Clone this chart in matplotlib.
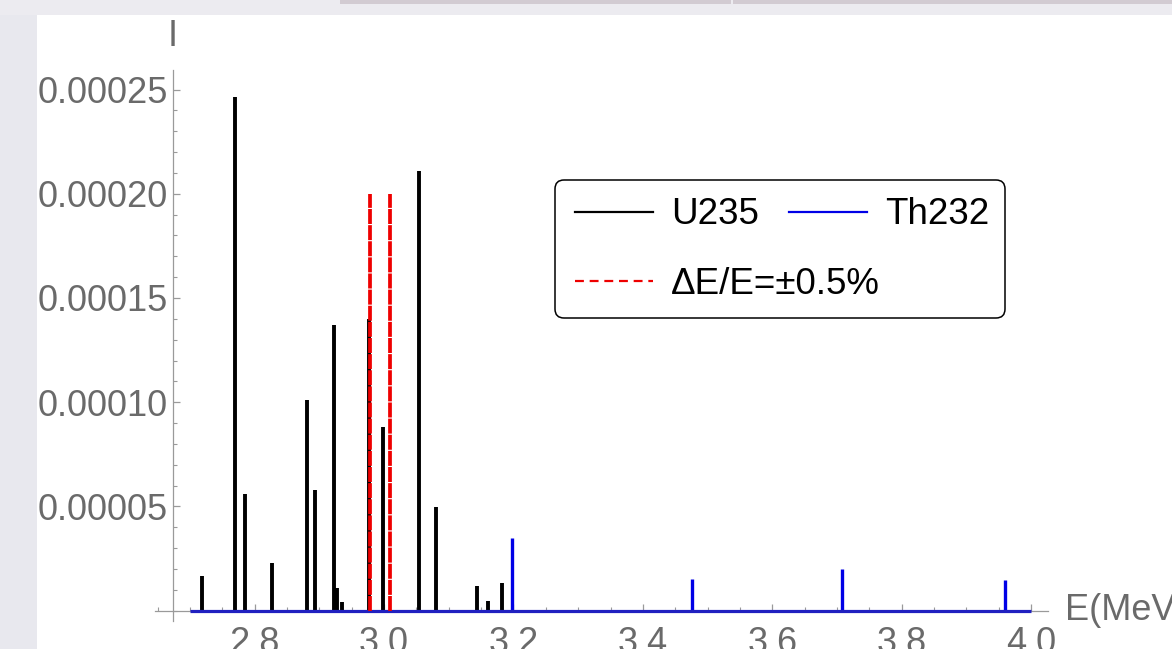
import matplotlib
matplotlib.use("Agg")
import matplotlib.pyplot as plt
from matplotlib.lines import Line2D
from matplotlib.patches import Rectangle, FancyBboxPatch
import numpy as np

# ---------------- data ----------------
u235_energy = [2.719, 2.770, 2.785, 2.827, 2.881, 2.893, 2.922, 2.928, 2.935,
               2.977, 2.999, 3.054, 3.081, 3.143, 3.160, 3.183]
u235_intensity = [1.67e-5, 2.465e-4, 5.6e-5, 2.28e-5, 1.01e-4, 5.78e-5, 1.37e-4,
                  1.07e-5, 4.2e-6, 1.40e-4, 8.8e-5, 2.11e-4, 4.98e-5, 1.18e-5,
                  4.6e-6, 1.33e-5]
th232_energy = [3.197, 3.476, 3.708, 3.960]
th232_intensity = [3.46e-5, 1.5e-5, 1.98e-5, 1.46e-5]
energy_range = [2.7, 4.0]
window_energy = [2.979, 3.009]
window_height = [2.0e-4, 2.0e-4]

x_major = [2.8, 3.0, 3.2, 3.4, 3.6, 3.8, 4.0]
x_labels = ["2.8", "3.0", "3.2", "3.4", "3.6", "3.8", "4.0"]
y_major = [0.00005, 0.00010, 0.00015, 0.00020, 0.00025]
y_labels = ["0.00005", "0.00010", "0.00015", "0.00020", "0.00025"]

# ---------------- figure ----------------
W, H = 1172, 649
fig = plt.figure(figsize=(W / 100, H / 100), dpi=100)
fig.patch.set_facecolor("white")
plt.rcParams['font.family'] = ['Liberation Sans', 'DejaVu Sans']

def fx(px):
    return px / W

def fy(py):
    return 1 - py / H

ax_left, ax_right, ax_top, ax_bot = 155, 1048, 70, 621
ax = fig.add_axes([fx(ax_left), fy(ax_bot), fx(ax_right) - fx(ax_left), fy(ax_top) - fy(ax_bot)])
ax.set_facecolor("none")
ax.set_xlim(2.646, 4.026)
ax.set_ylim(-0.000005, 0.0002594)

gray = "#6a6a6a"
axis_gray = "#9a9a9a"
blue = "#0000e6"
red = "#ee0000"

ax.vlines(u235_energy, 0, u235_intensity, colors="black", linewidth=2.8, zorder=2)
ax.vlines(th232_energy, 0, th232_intensity, colors=blue, linewidth=2.4, zorder=3)
ax.plot(energy_range, [0, 0], color="#2020c0", linewidth=2.3, zorder=3,
        solid_capstyle="butt")
ax.vlines(window_energy, 0, window_height, colors=red, linewidth=2.7,
          linestyles=[(0, (4, 0.3))], zorder=4)

# spines
for s in ["top", "right"]:
    ax.spines[s].set_visible(False)
ax.spines["left"].set_position(("data", 2.674))
ax.spines["bottom"].set_position(("data", 0))
for s in ["left", "bottom"]:
    ax.spines[s].set_color(axis_gray)
    ax.spines[s].set_linewidth(0.9)
    ax.spines[s].set_zorder(1)

ax.set_xticks(x_major)
ax.set_xticklabels(x_labels)
ax.set_xticks(np.arange(2.65, 4.01, 0.05), minor=True)
ax.set_yticks(y_major)
ax.set_yticklabels(y_labels)
ax.set_yticks(np.arange(0.0, 0.000255, 0.00001), minor=True)

ax.tick_params(axis="both", which="both", direction="in", color=axis_gray,
               labelcolor=gray, labelsize=26)
ax.tick_params(axis="both", which="major", length=5, width=0.9)
ax.tick_params(axis="both", which="minor", length=3.2, width=0.8)
ax.tick_params(axis="x", which="major", pad=11)
ax.tick_params(axis="y", which="major", pad=4)

# axis labels
fig.text(fx(172.5), fy(36), "I", color=gray, fontsize=26, ha="center", va="center")
fig.text(fx(1065), fy(610), "E(MeV)", color=gray, fontsize=26, ha="left", va="center")

# legend frame (drawn by hand so the rows can be laid out like the original)
frame = FancyBboxPatch((5.55, (H - 318) / 100), 4.50, 1.38,
                       boxstyle="round,pad=0,rounding_size=0.09",
                       transform=fig.dpi_scale_trans, facecolor="white",
                       edgecolor="black", linewidth=1.1, clip_on=False, zorder=8)
ax.add_patch(frame)

leg_kw = dict(loc="upper left", bbox_transform=fig.transFigure, borderaxespad=0,
              fontsize=26.5, frameon=False, handlelength=2.1, handletextpad=0.5,
              labelspacing=0.95, borderpad=0.5)
h_u = Line2D([], [], color="black", linewidth=1.6)
h_w = Line2D([], [], color=red, linewidth=1.6, linestyle=(0, (4, 2.6)))
h_t = Line2D([], [], color=blue, linewidth=1.6)
leg1 = ax.legend([h_u, h_w], ["U235", "ΔE/E=±0.5%"],
                 bbox_to_anchor=(fx(557), fy(179)), **leg_kw)
leg1.set_zorder(10)
ax.add_artist(leg1)
leg2 = ax.legend([h_t], ["Th232"], bbox_to_anchor=(fx(771), fy(179)), **leg_kw)
leg2.set_zorder(10)

# screenshot surround
fig.patches.append(Rectangle((0, 0), fx(37), 1, transform=fig.transFigure,
                             facecolor="#e8e8ee", edgecolor="none", zorder=20))
fig.patches.append(Rectangle((0, fy(15)), 1, 1 - fy(15), transform=fig.transFigure,
                             facecolor="#ecebf0", edgecolor="none", zorder=20))
fig.patches.append(Rectangle((fx(340), fy(4)), fx(731) - fx(340), 1 - fy(4),
                             transform=fig.transFigure, facecolor="#d2cbd2",
                             edgecolor="none", zorder=21))
fig.patches.append(Rectangle((fx(733), fy(4)), 1 - fx(733), 1 - fy(4),
                             transform=fig.transFigure, facecolor="#d2cbd2",
                             edgecolor="none", zorder=21))

fig.savefig("out.png", dpi=100)
